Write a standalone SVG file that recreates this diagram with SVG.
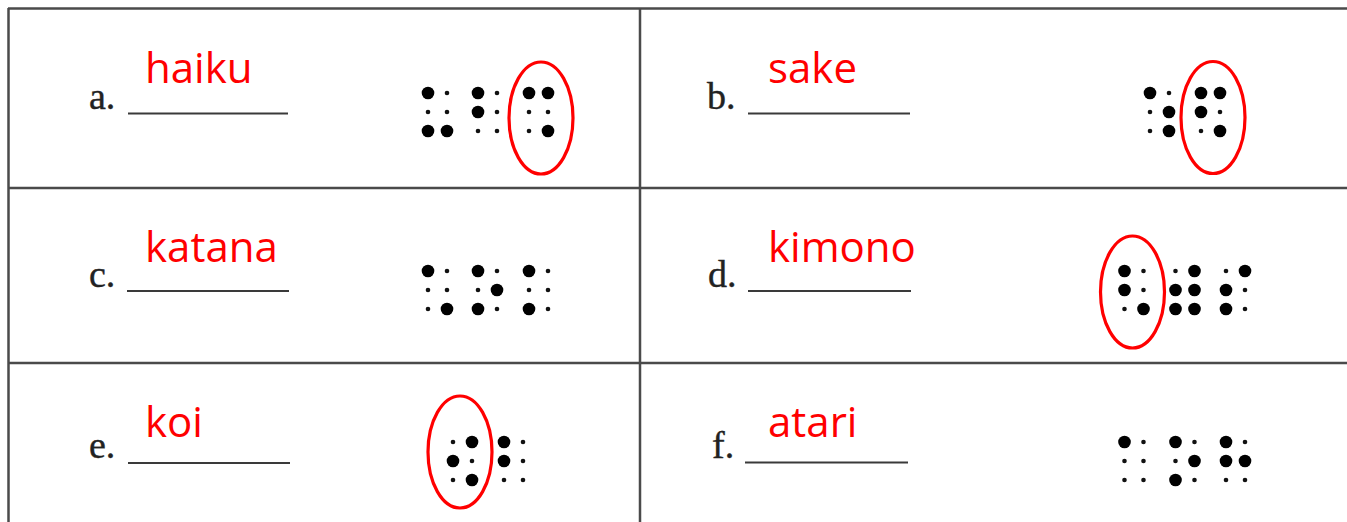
<svg xmlns="http://www.w3.org/2000/svg" xmlns:xlink="http://www.w3.org/1999/xlink" width="1347" height="522" viewBox="0 0 1347 522">
<style>
.grid line{stroke:#4a4a4a;stroke-width:2.5}
.lbl{font-family:"Liberation Serif","Times New Roman",serif;font-size:38px;fill:#222;stroke:#222;stroke-width:0.4}
.ans{font-family:"Open Sans","Noto Sans",sans-serif;font-size:42px;fill:#ff0000}
.ul{stroke:#3a3a3a;stroke-width:2.2}
.ring{fill:none;stroke:#ff0000;stroke-width:3.2}
</style>
<defs>
<circle id="B" r="6.3" fill="#000"/>
<circle id="S" r="2.3" fill="#111"/>
</defs>
<rect width="1347" height="522" fill="#fff"/>
<g id="grid" class="grid">
<line x1="8" y1="8.5" x2="1347" y2="8.5"/>
<line x1="8" y1="188" x2="1347" y2="188"/>
<line x1="8" y1="363" x2="1347" y2="363"/>
<line x1="8.5" y1="8" x2="8.5" y2="522"/>
<line x1="640" y1="8" x2="640" y2="522"/>
</g>
<g id="item-a">
<text class="lbl" x="89" y="109">a.</text>
<line class="ul" x1="128" y1="113.5" x2="288" y2="113.5"/>
<text class="ans" x="145" y="83">haiku</text>
<use href="#B" x="428" y="93"/><use href="#S" x="447" y="93"/><use href="#S" x="428" y="112"/><use href="#S" x="447" y="112"/><use href="#B" x="428" y="131"/><use href="#B" x="447" y="131"/>
<use href="#B" x="478" y="93"/><use href="#S" x="497" y="93"/><use href="#B" x="478" y="112"/><use href="#S" x="497" y="112"/><use href="#S" x="478" y="131"/><use href="#S" x="497" y="131"/>
<use href="#B" x="529" y="93"/><use href="#B" x="548" y="93"/><use href="#S" x="529" y="112"/><use href="#S" x="548" y="112"/><use href="#S" x="529" y="131"/><use href="#B" x="548" y="131"/>
<ellipse class="ring" cx="541" cy="118" rx="32" ry="56"/>
</g>
<g id="item-b">
<text class="lbl" x="707" y="109">b.</text>
<line class="ul" x1="748" y1="113.5" x2="910" y2="113.5"/>
<text class="ans" x="768" y="83">sake</text>
<use href="#B" x="1150" y="93"/><use href="#S" x="1169" y="93"/><use href="#S" x="1150" y="112"/><use href="#B" x="1169" y="112"/><use href="#S" x="1150" y="131"/><use href="#B" x="1169" y="131"/>
<use href="#B" x="1201" y="93"/><use href="#B" x="1220" y="93"/><use href="#B" x="1201" y="112"/><use href="#S" x="1220" y="112"/><use href="#S" x="1201" y="131"/><use href="#B" x="1220" y="131"/>
<ellipse class="ring" cx="1213" cy="117.5" rx="32" ry="56"/>
</g>
<g id="item-c">
<text class="lbl" x="89" y="287">c.</text>
<line class="ul" x1="127" y1="291" x2="289" y2="291"/>
<text class="ans" x="145" y="262">katana</text>
<use href="#B" x="428" y="271"/><use href="#S" x="447" y="271"/><use href="#S" x="428" y="290"/><use href="#S" x="447" y="290"/><use href="#S" x="428" y="309"/><use href="#B" x="447" y="309"/>
<use href="#B" x="478" y="271"/><use href="#S" x="497" y="271"/><use href="#S" x="478" y="290"/><use href="#B" x="497" y="290"/><use href="#B" x="478" y="309"/><use href="#S" x="497" y="309"/>
<use href="#B" x="529" y="271"/><use href="#S" x="548" y="271"/><use href="#S" x="529" y="290"/><use href="#S" x="548" y="290"/><use href="#B" x="529" y="309"/><use href="#S" x="548" y="309"/>
</g>
<g id="item-d">
<text class="lbl" x="708" y="287">d.</text>
<line class="ul" x1="748" y1="291" x2="911" y2="291"/>
<text class="ans" x="768" y="262">kimono</text>
<use href="#B" x="1124.5" y="271"/><use href="#S" x="1143.5" y="271"/><use href="#B" x="1124.5" y="290"/><use href="#S" x="1143.5" y="290"/><use href="#S" x="1124.5" y="309"/><use href="#B" x="1143.5" y="309"/>
<use href="#S" x="1175.5" y="271"/><use href="#B" x="1194.5" y="271"/><use href="#B" x="1175.5" y="290"/><use href="#B" x="1194.5" y="290"/><use href="#B" x="1175.5" y="309"/><use href="#B" x="1194.5" y="309"/>
<use href="#S" x="1226" y="271"/><use href="#B" x="1245" y="271"/><use href="#B" x="1226" y="290"/><use href="#S" x="1245" y="290"/><use href="#B" x="1226" y="309"/><use href="#S" x="1245" y="309"/>
<ellipse class="ring" cx="1132.5" cy="292" rx="32" ry="56"/>
</g>
<g id="item-e">
<text class="lbl" x="89" y="458">e.</text>
<line class="ul" x1="128" y1="463" x2="290" y2="463"/>
<text class="ans" x="145" y="437">koi</text>
<use href="#S" x="453" y="442"/><use href="#B" x="472" y="442"/><use href="#B" x="453" y="461"/><use href="#S" x="472" y="461"/><use href="#S" x="453" y="480"/><use href="#B" x="472" y="480"/>
<use href="#B" x="504" y="442"/><use href="#S" x="523" y="442"/><use href="#B" x="504" y="461"/><use href="#S" x="523" y="461"/><use href="#S" x="504" y="480"/><use href="#S" x="523" y="480"/>
<ellipse class="ring" cx="460" cy="452" rx="32" ry="56"/>
</g>
<g id="item-f">
<text class="lbl" x="712" y="458">f.</text>
<line class="ul" x1="745" y1="462.5" x2="908" y2="462.5"/>
<text class="ans" x="768" y="437">atari</text>
<use href="#B" x="1124.5" y="442"/><use href="#S" x="1143.5" y="442"/><use href="#S" x="1124.5" y="461"/><use href="#S" x="1143.5" y="461"/><use href="#S" x="1124.5" y="480"/><use href="#S" x="1143.5" y="480"/>
<use href="#B" x="1175.5" y="442"/><use href="#S" x="1194.5" y="442"/><use href="#S" x="1175.5" y="461"/><use href="#B" x="1194.5" y="461"/><use href="#B" x="1175.5" y="480"/><use href="#S" x="1194.5" y="480"/>
<use href="#B" x="1226" y="442"/><use href="#S" x="1245" y="442"/><use href="#B" x="1226" y="461"/><use href="#B" x="1245" y="461"/><use href="#S" x="1226" y="480"/><use href="#S" x="1245" y="480"/>
</g>
</svg>
